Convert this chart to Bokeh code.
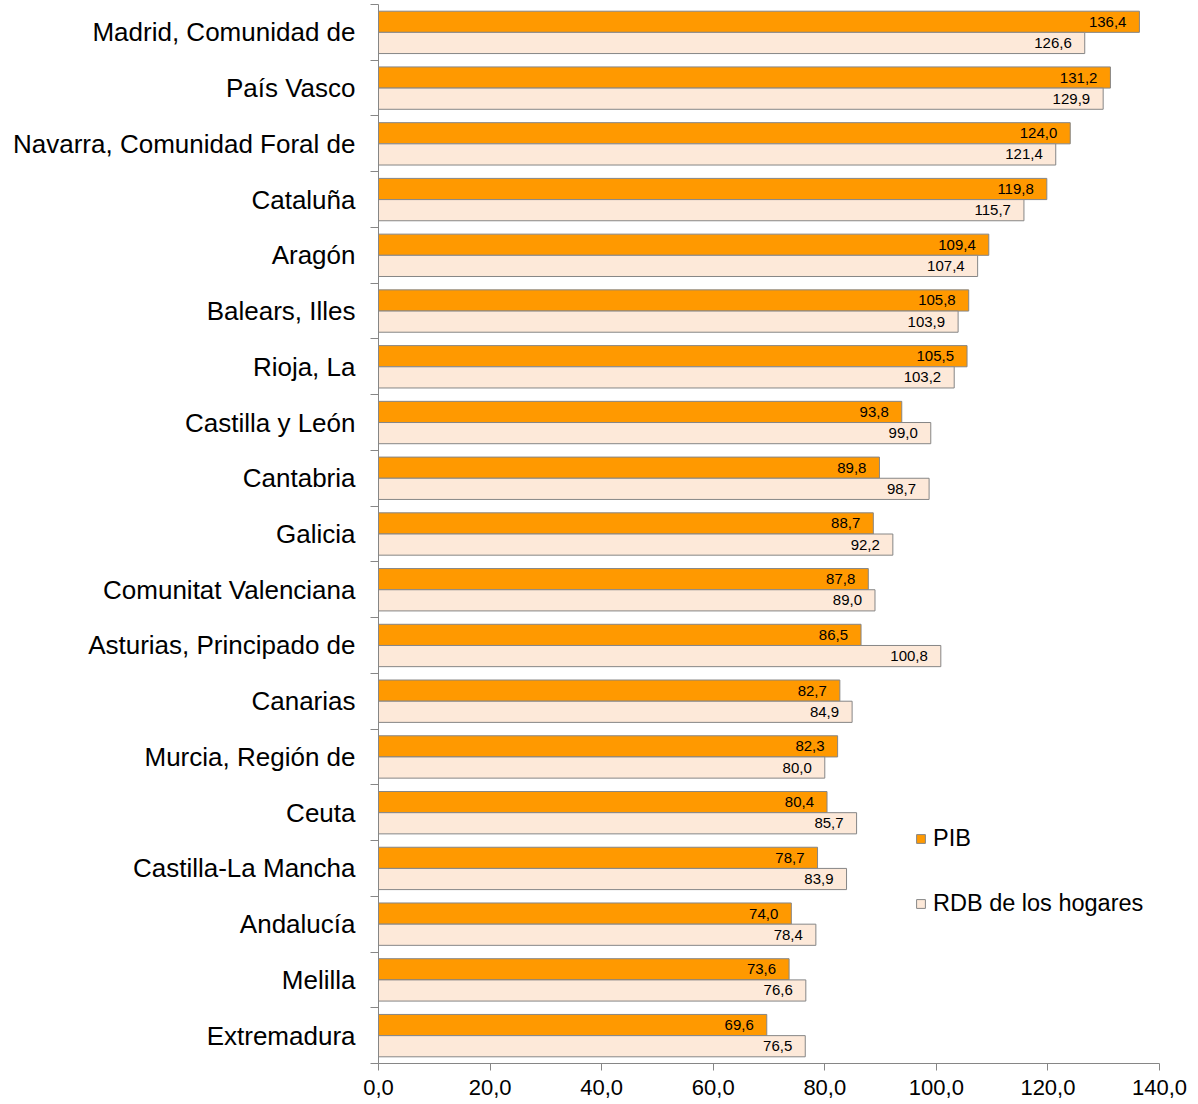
from bokeh.plotting import figure
from bokeh.models import (ColumnDataSource, Range1d, FixedTicker, Legend, LegendItem)
from bokeh.core.properties import value
from bokeh.embed import file_html
from bokeh.resources import INLINE

regions = ["Madrid, Comunidad de", "País Vasco", "Navarra, Comunidad Foral de", "Cataluña",
           "Aragón", "Balears, Illes", "Rioja, La", "Castilla y León", "Cantabria", "Galicia",
           "Comunitat Valenciana", "Asturias, Principado de", "Canarias", "Murcia, Región de",
           "Ceuta", "Castilla-La Mancha", "Andalucía", "Melilla", "Extremadura"]
pib = [136.4, 131.2, 124.0, 119.8, 109.4, 105.8, 105.5, 93.8, 89.8, 88.7,
       87.8, 86.5, 82.7, 82.3, 80.4, 78.7, 74.0, 73.6, 69.6]
rdb = [126.6, 129.9, 121.4, 115.7, 107.4, 103.9, 103.2, 99.0, 98.7, 92.2,
       89.0, 100.8, 84.9, 80.0, 85.7, 83.9, 78.4, 76.6, 76.5]
x_ticks = [0, 20, 40, 60, 80, 100, 120, 140]
series_names = ["PIB", "RDB de los hogares"]

FONT = "Liberation Sans"
ORANGE = "#FF9900"
PALE = "#FDE9D9"
GRAY = "#868686"

n = len(regions)
ypos = [n - 1 - i for i in range(n)]

def fmt(v):
    return f"{v:.1f}".replace(".", ",")

src = ColumnDataSource(dict(
    y=ypos,
    y_pib=[y + 0.19 for y in ypos],
    y_rdb=[y - 0.19 for y in ypos],
    pib=pib, rdb=rdb,
    pib_lbl=[fmt(v) for v in pib],
    rdb_lbl=[fmt(v) for v in rdb],
))

p = figure(width=1190, height=1104, output_backend="svg", toolbar_location=None,
           x_range=Range1d(0, 140), y_range=Range1d(-0.5, n - 0.5),
           min_border_left=378, min_border_right=31, min_border_top=4, min_border_bottom=41)
p.outline_line_color = None
p.xgrid.visible = False
p.ygrid.visible = False
p.background_fill_color = "white"

r1 = p.hbar(y="y_pib", right="pib", left=0, height=0.38, source=src,
            fill_color=ORANGE, line_color=GRAY, line_width=1)
r2 = p.hbar(y="y_rdb", right="rdb", left=0, height=0.38, source=src,
            fill_color=PALE, line_color=GRAY, line_width=1)

p.text(x="pib", y="y_pib", text="pib_lbl", source=src, x_offset=-13,
       text_align="right", text_baseline="middle", text_font=value(FONT),
       text_font_size="15px", text_color="black")
p.text(x="rdb", y="y_rdb", text="rdb_lbl", source=src, x_offset=-13,
       text_align="right", text_baseline="middle", text_font=value(FONT),
       text_font_size="15px", text_color="black")

# x axis
p.xaxis.ticker = FixedTicker(ticks=x_ticks)
p.xaxis.major_label_overrides = {t: fmt(t) for t in x_ticks}
p.xaxis.major_tick_out = 7
p.xaxis.major_tick_in = 0
p.xaxis.minor_tick_out = 0
p.xaxis.minor_tick_in = 0
p.xaxis.axis_line_color = GRAY
p.xaxis.major_tick_line_color = GRAY
p.xaxis.major_label_text_font = FONT
p.xaxis.major_label_text_font_size = "22px"
p.xaxis.major_label_text_color = "black"
p.xaxis.major_label_standoff = 9

# y axis: labels at centres, tick marks at boundaries
p.yaxis.ticker = FixedTicker(ticks=ypos, minor_ticks=[y + 0.5 for y in range(-1, n)])
p.yaxis.major_label_overrides = {y: regions[i] for i, y in enumerate(ypos)}
p.yaxis.major_tick_out = 0
p.yaxis.major_tick_in = 0
p.yaxis.minor_tick_out = 8
p.yaxis.minor_tick_in = 0
p.yaxis.minor_tick_line_color = GRAY
p.yaxis.axis_line_color = GRAY
p.yaxis.major_label_text_font = FONT
p.yaxis.major_label_text_font_size = "26px"
p.yaxis.major_label_text_color = "black"
p.yaxis.major_label_standoff = 15

legend = Legend(items=[LegendItem(label=series_names[0], renderers=[r1]),
                       LegendItem(label=series_names[1], renderers=[r2])],
                location=(537, 146), orientation="vertical",
                glyph_width=11, glyph_height=11, label_text_font=FONT,
                label_text_font_size="23.5px", label_text_color="black",
                spacing=38, padding=0, margin=0, label_standoff=7,
                border_line_color=None, background_fill_alpha=0)
p.add_layout(legend)

open("out.html", "w").write(file_html(p, INLINE))
